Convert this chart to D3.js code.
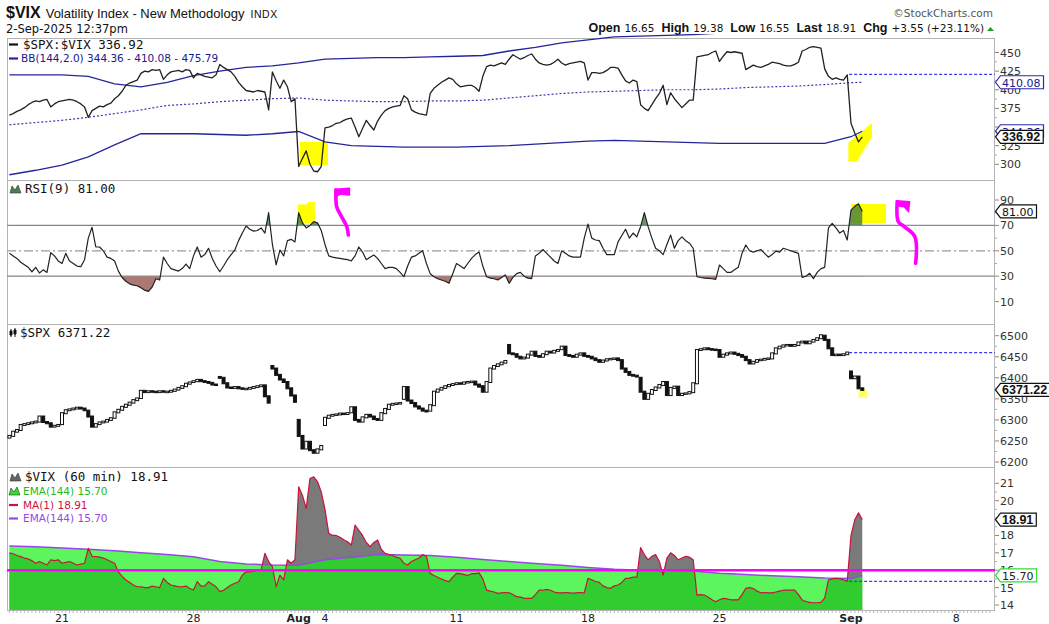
<!DOCTYPE html>
<html>
<head>
<meta charset="utf-8">
<title>$VIX</title>
<script src="https://cdn.jsdelivr.net/npm/d3@7"></script>
<style>
    html, body { margin: 0; padding: 0; background: #fff; }
    svg { display: block; }
</style>
</head>
<body>
<svg id="chart" width="1049" height="624"></svg>
<script>

/* Trading days on the chart, 7 hourly bars per day (last day partial) */
var trading_days = ["2025-07-17","2025-07-18","2025-07-21","2025-07-22","2025-07-23","2025-07-24","2025-07-25",
    "2025-07-28","2025-07-29","2025-07-30","2025-07-31","2025-08-01","2025-08-04","2025-08-05","2025-08-06",
    "2025-08-07","2025-08-08","2025-08-11","2025-08-12","2025-08-13","2025-08-14","2025-08-15","2025-08-18",
    "2025-08-19","2025-08-20","2025-08-21","2025-08-22","2025-08-25","2025-08-26","2025-08-27","2025-08-28",
    "2025-08-29","2025-09-02"];
var bars_per_day = 7;

/* Date axis: day number (counted from Jul 17) and label */
var axis_day_index = [2, 7, 11, 12, 17, 22, 27, 32, 36];
var axis_labels    = ["21", "28", "Aug", "4", "11", "18", "25", "Sep", "8"];
var axis_is_month  = [false, false, true, false, false, false, false, true, false];

/* $SPX:$VIX ratio, hourly */
var ratio_close = [
    366, 368, 371, 373, 376, 380, 383,
    385, 384, 386, 387, 377, 381, 384,
    385, 386, 387, 386, 384, 381, 377,
    363, 372, 375, 378, 377, 380, 382,
    388, 392, 398, 406, 409, 411, 413,
    422, 425, 424, 427, 426, 427, 414,
    420, 424, 425, 426, 424, 427, 426,
    416, 422, 420, 418, 417, 416, 420,
    434, 430, 427, 424, 418, 410, 404,
    399, 398, 397, 399, 398, 397, 373,
    424, 412, 402, 413, 404, 384, 388,
    297, 308, 318, 300, 291, 290, 297,
    349, 350, 352, 355, 356, 359, 361,
    362, 350, 337, 348, 359, 352, 346,
    358, 366, 372, 375, 377, 378, 379,
    392, 388, 373, 370, 368, 367, 366,
    395, 402, 406, 410, 413, 416, 414,
    408, 404, 405, 406, 406, 403, 398,
    418, 431, 433, 432, 434, 436, 434,
    441, 447, 444, 441, 443, 446, 448,
    441, 436, 434, 433, 434, 437, 441,
    436, 433, 435, 436, 437, 438, 436,
    413, 423, 423, 422, 423, 426, 430,
    430, 429, 420, 412, 409, 413, 411,
    380, 375, 372, 380, 388, 395, 406,
    380, 396, 388, 382, 376, 381, 386,
    386, 444, 445, 446, 447, 450, 452,
    438, 445, 451, 450, 451, 450, 449,
    427, 430, 433, 431, 430, 432, 434,
    437, 436, 435, 433, 432, 432, 434,
    437, 452, 454, 457, 458, 457, 456,
    428, 418, 414, 416, 414, 413, 420,
    355, 342, 330, 336.92
];

/* Bollinger bands (144, 2.0): one value per day open, plus the last bar */
var bb_upper  = [420, 420, 420, 418, 408, 404, 410, 419, 425, 430, 432, 436, 441, 442, 443, 443, 444,
    445, 446, 452, 457, 463, 467, 471, 472, 473, 474, 476, 479, 481, 481, 479, 476, 475.79];
var bb_middle = [353, 356, 359, 363, 368, 373, 379, 381, 384, 386, 388, 389, 386, 385, 384, 384, 385,
    385, 386, 389, 392, 395, 397, 398, 399, 400, 400, 401, 403, 404, 405, 407, 409.5, 410.08];
var bb_lower  = [286, 292, 299, 310, 326, 341, 341, 341, 340, 339, 341, 344, 330, 325, 324, 323, 323,
    323, 324, 325, 327, 329, 331, 332, 331, 330, 329, 328, 328, 328, 328, 328, 337, 344.36];

/* RSI(9), hourly */
var rsi_values = [
    48, 46, 44, 41, 39, 37, 33.5,
    37, 32.5, 35, 33, 48.5, 46, 42,
    40, 48, 42, 40, 38, 37.5, 43,
    60, 68.5, 53, 53, 50, 45, 44,
    42, 34, 29, 26, 24, 23, 22.5,
    21, 19, 18, 21.5, 28, 27, 45,
    40, 36, 35, 34, 36, 39.6, 36,
    46, 53, 45, 47, 52, 44, 38,
    33.5, 38, 43, 47, 50.6, 58, 64,
    69.5, 67, 65.5, 66, 68, 64, 80,
    55, 39, 50.6, 46, 58, 59, 57,
    80, 72, 68, 70, 73, 72, 66,
    55, 46, 45, 44.5, 44, 43.5, 43,
    42, 46, 53, 49, 43, 45, 46.7,
    44, 40, 36, 37, 37, 36, 33,
    29.6, 38, 45, 46, 48, 50, 40,
    32, 29.6, 28, 27, 26, 24.4, 32,
    40, 38, 36, 40, 44, 47, 49,
    38, 29.6, 28.5, 28, 27, 29, 31,
    24.4, 29, 32, 33, 30, 28.5, 28,
    46, 48, 51, 48, 45, 42, 40,
    50, 48, 46, 45, 45, 45, 60,
    71, 60, 58.5, 58, 52, 47, 47,
    47, 57, 62, 67, 60, 64, 61,
    69, 80, 69, 60, 52, 50, 47,
    55, 62.4, 52, 58, 61, 58, 56,
    52, 29.6, 29, 28.5, 28.3, 28, 27.5,
    38.8, 36, 33, 33, 35, 37, 48,
    54.6, 50, 49, 50, 51, 48, 45,
    47, 49.7, 49, 52, 51, 50, 49,
    48, 29, 30, 32.3, 28, 33, 36,
    37, 68, 71.6, 68, 64, 66, 58.5,
    82, 85, 87, 81
];
var rsi_levels = [30, 50, 70];

/* $SPX hourly closes and the opening price of each day */
var spx_close = [
    6262, 6272, 6276, 6288, 6290, 6292, 6294,
    6296, 6308, 6295, 6292, 6284, 6286, 6288,
    6316, 6323, 6325, 6327, 6329, 6327, 6323,
    6308, 6284, 6290, 6294, 6296, 6300, 6304,
    6318, 6324, 6331, 6336, 6341, 6347, 6351,
    6369, 6366, 6368, 6367, 6366, 6368, 6367,
    6367, 6369, 6372, 6376, 6380, 6386, 6389,
    6392, 6395, 6392, 6390, 6388, 6384, 6383,
    6400, 6387, 6377, 6376, 6378, 6375, 6374,
    6374, 6376, 6378, 6380, 6382, 6356, 6341,
    6422, 6407, 6396, 6390, 6375, 6358, 6343,
    6262, 6232, 6248, 6228, 6222, 6230, 6238,
    6305, 6310, 6312, 6313, 6315, 6314, 6316,
    6330, 6300, 6296, 6306, 6312, 6308, 6302,
    6300, 6316, 6326, 6336, 6338, 6339, 6340,
    6378, 6346, 6340, 6332, 6327, 6322, 6320,
    6335, 6367, 6372, 6376, 6380, 6383, 6385,
    6387, 6386, 6389, 6390, 6391, 6384, 6379,
    6367, 6390, 6422, 6428, 6432, 6436, 6440,
    6458, 6456, 6450, 6446, 6448, 6455, 6462,
    6452, 6450, 6456, 6462, 6460, 6464, 6466,
    6474, 6454, 6452, 6450, 6455, 6458, 6452,
    6450, 6446, 6442, 6438, 6441, 6444, 6445,
    6446, 6442, 6422, 6414, 6407, 6405, 6403,
    6367, 6350, 6362, 6371, 6377, 6383, 6390,
    6359, 6376, 6379, 6359, 6362, 6363, 6366,
    6387, 6466, 6468, 6470, 6468, 6467, 6466,
    6450, 6455, 6458, 6460, 6457, 6454, 6450,
    6442, 6434, 6438, 6442, 6443, 6445, 6446,
    6458, 6470, 6474, 6477, 6478, 6476, 6478,
    6484, 6486, 6482, 6486, 6490, 6494, 6501,
    6490, 6470, 6454, 6455, 6454, 6456, 6460,
    6399, 6403, 6375, 6371.22
];
var spx_day_open = [6258, 6294, 6290, 6322, 6305, 6352, 6366, 6390, 6402, 6374, 6428, 6300, 6288, 6318,
    6302, 6350, 6322, 6385, 6380, 6478, 6462, 6468, 6452, 6445, 6400, 6390, 6366, 6466, 6450, 6446,
    6478, 6500, 6415];

/* $VIX hourly closes and EMA(144) per day open (plus last bar) */
var vix_close = [
    17.0, 16.95, 16.85, 16.78, 16.7, 16.65, 16.55,
    16.4, 16.5, 16.4, 16.3, 16.6, 16.55, 16.6,
    16.4, 16.45, 16.5, 16.4, 16.3, 16.35, 16.4,
    17.26, 16.8, 16.78, 16.75, 16.7, 16.6, 16.5,
    16.4, 15.9, 15.65, 15.44, 15.3, 15.15, 15.05,
    15.05, 15.0, 15.0, 15.09, 15.05, 15.0, 15.53,
    15.3, 15.15, 15.1, 15.05, 15.05, 15.09, 14.95,
    14.86, 15.34, 15.09, 15.1, 15.34, 15.2, 15.05,
    14.77, 14.85, 15.0, 15.15, 15.25, 15.34, 15.72,
    15.91, 15.9, 15.95, 16.0, 16.0, 16.97, 16.5,
    16.2, 15.05, 15.72, 15.44, 16.6, 16.4, 16.6,
    20.8, 20.3, 19.56, 21.28, 21.37, 21.1, 20.5,
    19.5, 18.12, 18.0, 18.0, 17.9, 17.75, 17.64,
    17.45, 18.6, 18.3, 18.0, 17.6, 17.35, 17.6,
    17.74, 17.2, 16.97, 16.9, 16.85, 16.75, 16.68,
    16.4, 16.3, 16.5, 16.6, 16.7, 16.9, 16.8,
    15.82, 15.7, 15.6, 15.5, 15.4, 15.34, 15.6,
    15.82, 15.8, 15.75, 15.7, 15.8, 15.8, 15.85,
    15.5, 14.86, 14.8, 14.75, 14.67, 14.7, 14.72,
    14.7, 14.6, 14.48, 14.45, 14.4, 14.38, 14.38,
    14.6, 14.86, 14.85, 14.9, 14.85, 14.75, 14.7,
    14.7, 14.72, 14.7, 14.68, 14.7, 14.72, 14.7,
    15.53, 15.45, 15.35, 15.3, 15.1, 15.0, 14.96,
    15.1, 15.15, 15.3, 15.53, 15.55, 15.6, 15.6,
    17.3, 16.9, 16.6, 16.8, 16.9, 16.5, 15.72,
    16.7, 17.0, 16.85, 16.6, 16.7, 16.8, 16.75,
    16.6, 14.57, 14.6, 14.57, 14.45, 14.3, 14.19,
    14.3, 14.38, 14.35, 14.3, 14.3, 14.3, 14.6,
    14.96, 15.0, 14.95, 14.8, 14.7, 14.72, 14.7,
    14.7, 14.75, 14.8, 14.85, 14.86, 14.86, 14.86,
    14.6, 14.29, 14.2, 14.15, 14.13, 14.13, 14.15,
    14.4, 15.44, 15.5, 15.53, 15.5, 15.45, 15.36,
    18.0, 18.9, 19.3, 18.91
];
var vix_ema = [17.4, 17.35, 17.28, 17.2, 17.12, 17.0, 16.9, 16.77, 16.5, 16.36, 16.3, 16.28, 16.6, 16.75,
    16.9, 16.88, 16.85, 16.75, 16.62, 16.5, 16.38, 16.28, 16.15, 16.05, 16.0, 15.98, 15.95, 15.82, 15.75,
    15.68, 15.62, 15.55, 15.52, 15.70];

/* Previous close (Aug 29) of ratio, $SPX and $VIX */
var prev_close_ratio = 420.6;
var prev_close_spx   = 6460;
var prev_close_vix   = 15.36;

/* Right axis ticks */
var ratio_ticks = [300, 325, 350, 375, 400, 425, 450];
var rsi_ticks   = [10, 30, 50, 70, 90];
var spx_ticks   = [6200, 6250, 6300, 6350, 6400, 6450, 6500];
var vix_ticks   = [14, 15, 16, 17, 18, 19, 20, 21];

/* Header quote */
var quote_labels = ["Open", "High", "Low", "Last", "Chg"];
var quote_values = ["16.65", "19.38", "16.55", "18.91", "+3.55 (+23.11%)"];

/* Hand drawn notes, in [bar, value] pairs */
var note_yellow_ratio = [
    [[77.3, 299], [84.8, 299], [84.8, 330], [77.3, 330]],
    [[223.3, 303], [223.3, 329], [228.3, 350], [229.6, 355], [229.6, 337], [225.6, 304]]
];
var note_yellow_rsi = [
    [[76.8, 71.5], [81.3, 71.5], [81.3, 88.5], [79.3, 88.5], [79.3, 86.5], [76.8, 86.5]],
    [[224, 71.7], [233.3, 71.7], [233.3, 86.9], [224, 86.9]]
];
var note_yellow_spx = [
    [[226, 6352], [228.3, 6352], [228.3, 6372], [226, 6372]]
];
var note_pink_stems = [
    [[90.2, 62.4], [89.8, 69], [88.4, 76.9], [87.1, 84.7], [86.9, 92.6], [86.9, 98]],
    [[241.2, 40.2], [241.0, 61.1], [238.2, 69], [236.6, 72.9], [236.3, 88.7]]
];
var note_pink_flags = [
    [[86.9, 98.4], [90.5, 99.2], [90.5, 93.9], [88.0, 94.7], [86.9, 92.6]],
    [[236.1, 89.4], [239.6, 88.7], [239.3, 80.8], [238.2, 84.7], [236.8, 85.3]]
];
var note_pink_level = 16.0;

(function(d3) {

    /* Plot frame and panel bands */
    var m_left  = 7;
    var m_right = 995;
    var m_panels = {
        ratio: { top: 38,  bottom: 180 },
        rsi:   { top: 180, bottom: 324 },
        spx:   { top: 324, bottom: 467 },
        vix:   { top: 467, bottom: 610 }
    };

    var svg = d3.select('#chart');
    var defs = svg.append('defs');

    /* x: hourly bar number (Jul 17 first bar = 0) */
    var x = d3.scaleLinear().domain([0, 252]).range([9.4, 956.2]);

    var y_ratio = d3.scaleLinear().domain([300, 450]).range([164.3, 52.5]);
    var y_rsi   = d3.scaleLinear().domain([10, 90]).range([301.6, 200]);
    var y_spx   = d3.scaleLinear().domain([6200, 6500]).range([462, 335.7]);
    var y_vix   = d3.scaleLinear().domain([14, 21]).range([605, 483.3]);

    var last_bar = ratio_close.length - 1;

    var bar_points = function(values) {
        return values.map(function(v, i) { return { i: i, v: v }; });
    };
    var day_points = function(values) {
        return values.map(function(v, k) {
            return { i: k < trading_days.length ? k * bars_per_day : last_bar, v: v };
        });
    };
    var make_line = function(y) {
        return d3.line().x(function(d) { return x(d.i); }).y(function(d) { return y(d.v); });
    };
    var note_path = function(y) {
        return d3.line().x(function(d) { return x(d[0]); }).y(function(d) { return y(d[1]); });
    };

    /* clip rect helper */
    var add_clip = function(id, x0, y0, x1, y1) {
        defs.append('clipPath').attr('id', id).append('rect')
            .attr('x', x0).attr('y', y0).attr('width', x1 - x0).attr('height', y1 - y0);
        return 'url(#' + id + ')';
    };

    var clip_ratio = add_clip('clip_ratio', m_left, 34, m_right, m_panels.ratio.bottom);
    var clip_rsi   = add_clip('clip_rsi', m_left, m_panels.rsi.top, m_right, m_panels.rsi.bottom);
    var clip_spx   = add_clip('clip_spx', m_left, m_panels.spx.top, m_right, m_panels.spx.bottom);
    var clip_vix   = add_clip('clip_vix', m_left, m_panels.vix.top, m_right, m_panels.vix.bottom);

    /* ### HEADER ### */
    var header = svg.append('g');
    var title = header.append('text').attr('x', 6).attr('y', 18).attr('fill', '#111');
    title.append('tspan').attr('font-family', 'Liberation Sans, Arial, sans-serif')
        .attr('font-weight', 'bold').attr('font-size', 16).text('$VIX');
    title.append('tspan').attr('dx', 5).attr('font-family', 'Liberation Sans, Arial, sans-serif')
        .attr('font-size', 13).text('Volatility Index - New Methodology');
    title.append('tspan').attr('dx', 6).attr('font-family', 'Liberation Sans, Arial, sans-serif')
        .attr('font-size', 10.5).attr('letter-spacing', 0.6).text('INDX');

    header.append('text').attr('x', 6).attr('y', 33)
        .attr('font-family', 'DejaVu Sans, sans-serif').attr('font-size', 11.5).attr('fill', '#111')
        .text('2-Sep-2025 12:37pm');

    header.append('text').attr('x', 993).attr('y', 17).attr('text-anchor', 'end')
        .attr('font-family', 'DejaVu Sans, sans-serif').attr('font-size', 10.5).attr('fill', '#555')
        .text('\u00a9StockCharts.com');

    var quote = header.append('text').attr('x', 984).attr('y', 32).attr('text-anchor', 'end').attr('fill', '#111');
    quote_labels.forEach(function(lbl, k) {
        quote.append('tspan').attr('dx', k === 0 ? 0 : 7)
            .attr('font-family', 'Liberation Sans, Arial, sans-serif').attr('font-weight', 'bold')
            .attr('font-size', 12.5).text(lbl);
        quote.append('tspan').attr('dx', 4)
            .attr('font-family', 'DejaVu Sans, sans-serif').attr('font-size', 10.5).text(quote_values[k]);
    });
    header.append('path').attr('d', 'M987,31 L990.5,27 L994,31 Z').attr('fill', '#1fa01f');

    /* ### FRAME ### */
    var frame = svg.append('g').attr('stroke', '#b4b4b4').attr('stroke-width', 1).attr('fill', 'none');
    frame.append('rect').attr('x', m_left + 0.5).attr('y', m_panels.ratio.top + 0.5)
        .attr('width', m_right - m_left - 1).attr('height', m_panels.vix.bottom - m_panels.ratio.top);
    [m_panels.rsi.top, m_panels.spx.top, m_panels.vix.top].forEach(function(yy) {
        frame.append('line').attr('x1', m_left).attr('x2', m_right).attr('y1', yy + 0.5).attr('y2', yy + 0.5);
    });

    /* ### PANEL 1: $SPX:$VIX with Bollinger bands ### */
    var g_ratio = svg.append('g').attr('clip-path', clip_ratio);

    g_ratio.selectAll('.note_yellow').data(note_yellow_ratio).enter().append('path')
        .attr('d', function(d) { return note_path(y_ratio)(d) + 'Z'; })
        .attr('fill', '#ffff00');

    var line_ratio = make_line(y_ratio);
    g_ratio.append('path').attr('d', line_ratio(day_points(bb_upper)))
        .attr('fill', 'none').attr('stroke', '#25259a').attr('stroke-width', 1.3);
    g_ratio.append('path').attr('d', line_ratio(day_points(bb_lower)))
        .attr('fill', 'none').attr('stroke', '#25259a').attr('stroke-width', 1.3);
    g_ratio.append('path').attr('d', line_ratio(day_points(bb_middle)))
        .attr('fill', 'none').attr('stroke', '#3a3ab0').attr('stroke-width', 1.2).attr('stroke-dasharray', '2,2');

    g_ratio.append('line')
        .attr('x1', (x(last_bar - 3) + x(last_bar - 4)) / 2).attr('x2', m_right)
        .attr('y1', y_ratio(prev_close_ratio)).attr('y2', y_ratio(prev_close_ratio))
        .attr('stroke', '#3b3bff').attr('stroke-width', 1.2).attr('stroke-dasharray', '3,2');

    g_ratio.append('path').attr('d', line_ratio(bar_points(ratio_close)))
        .attr('fill', 'none').attr('stroke', '#222').attr('stroke-width', 1.3).attr('stroke-linejoin', 'round');

    /* ### PANEL 2: RSI(9) ### */
    var g_rsi = svg.append('g').attr('clip-path', clip_rsi);

    g_rsi.selectAll('.note_yellow').data(note_yellow_rsi).enter().append('path')
        .attr('d', function(d) { return note_path(y_rsi)(d) + 'Z'; })
        .attr('fill', '#ffff00');

    rsi_levels.forEach(function(lvl) {
        g_rsi.append('line').attr('x1', m_left).attr('x2', m_right)
            .attr('y1', y_rsi(lvl)).attr('y2', y_rsi(lvl))
            .attr('stroke', lvl === 50 ? '#999' : '#8c8c8c').attr('stroke-width', 1.2)
            .attr('stroke-dasharray', lvl === 50 ? '9,3,2,3' : null);
    });

    var rsi_pts = bar_points(rsi_values);
    var clip_over  = add_clip('clip_rsi_over', m_left, m_panels.rsi.top, m_right, y_rsi(70));
    var clip_under = add_clip('clip_rsi_under', m_left, y_rsi(30), m_right, m_panels.rsi.bottom);
    var area_rsi = function(level) {
        return d3.area().x(function(d) { return x(d.i); })
            .y0(y_rsi(level)).y1(function(d) { return y_rsi(d.v); });
    };
    g_rsi.append('g').attr('clip-path', clip_over).append('path')
        .attr('d', area_rsi(70)(rsi_pts)).attr('fill', '#3f7a3f').attr('fill-opacity', 0.78);
    g_rsi.append('g').attr('clip-path', clip_under).append('path')
        .attr('d', area_rsi(30)(rsi_pts)).attr('fill', '#9c6258').attr('fill-opacity', 0.85);

    g_rsi.append('path').attr('d', make_line(y_rsi)(rsi_pts))
        .attr('fill', 'none').attr('stroke', '#222').attr('stroke-width', 1.2).attr('stroke-linejoin', 'round');

    /* pink marker arrows */
    g_rsi.selectAll('.note_stem').data(note_pink_stems).enter().append('path')
        .attr('d', function(d) { return d3.line().curve(d3.curveCatmullRom)
            .x(function(p) { return x(p[0]); }).y(function(p) { return y_rsi(p[1]); })(d); })
        .attr('fill', 'none').attr('stroke', '#ff00ff').attr('stroke-width', 3.6).attr('stroke-linecap', 'round');
    g_rsi.selectAll('.note_flag').data(note_pink_flags).enter().append('path')
        .attr('d', function(d) { return note_path(y_rsi)(d) + 'Z'; })
        .attr('fill', '#ff00ff').attr('stroke', '#ff00ff').attr('stroke-width', 1.5).attr('stroke-linejoin', 'round');

    /* ### PANEL 3: $SPX candles ### */
    var g_spx = svg.append('g').attr('clip-path', clip_spx);

    g_spx.selectAll('.note_yellow').data(note_yellow_spx).enter().append('path')
        .attr('d', function(d) { return note_path(y_spx)(d) + 'Z'; })
        .attr('fill', '#ffff66');

    g_spx.append('line')
        .attr('x1', (x(last_bar - 3) + x(last_bar - 4)) / 2).attr('x2', m_right)
        .attr('y1', y_spx(prev_close_spx)).attr('y2', y_spx(prev_close_spx))
        .attr('stroke', '#3b3bff').attr('stroke-width', 1.2).attr('stroke-dasharray', '3,2');

    var candles = spx_close.map(function(c, i) {
        var open = (i % bars_per_day === 0) ? spx_day_open[i / bars_per_day] : spx_close[i - 1];
        return { i: i, o: open, c: c };
    });
    g_spx.selectAll('.candle').data(candles).enter().append('rect')
        .attr('class', 'candle')
        .attr('x', function(d) { return x(d.i) - 1.5; })
        .attr('width', 3)
        .attr('y', function(d) { return y_spx(Math.max(d.o, d.c)) - 0.5; })
        .attr('height', function(d) { return Math.max(1.5, Math.abs(y_spx(d.o) - y_spx(d.c)) + 1); })
        .attr('fill', function(d) { return d.c < d.o ? '#111' : '#fff'; })
        .attr('stroke', '#111').attr('stroke-width', 1);

    /* ### PANEL 4: $VIX with EMA(144) ### */
    var g_vix = svg.append('g').attr('clip-path', clip_vix);
    var vix_pts = bar_points(vix_close);
    var ema_pts = day_points(vix_ema);
    var area_vix = d3.area().x(function(d) { return x(d.i); })
        .y0(m_panels.vix.bottom).y1(function(d) { return y_vix(d.v); });

    g_vix.append('path').attr('d', area_vix(vix_pts)).attr('fill', '#7a7a7a');
    g_vix.append('path').attr('d', area_vix(ema_pts)).attr('fill', '#5df55d');
    defs.append('clipPath').attr('id', 'clip_ema').append('path').attr('d', area_vix(ema_pts));
    g_vix.append('g').attr('clip-path', 'url(#clip_ema)').append('path')
        .attr('d', area_vix(vix_pts)).attr('fill', '#30cc30');

    g_vix.append('path').attr('d', make_line(y_vix)(ema_pts))
        .attr('fill', 'none').attr('stroke', '#9b45e8').attr('stroke-width', 1.5);
    g_vix.append('path').attr('d', make_line(y_vix)(vix_pts))
        .attr('fill', 'none').attr('stroke', '#c8143c').attr('stroke-width', 1.2).attr('stroke-linejoin', 'round');

    g_vix.append('line').attr('x1', m_left).attr('x2', m_right)
        .attr('y1', y_vix(note_pink_level)).attr('y2', y_vix(note_pink_level))
        .attr('stroke', '#ff00ff').attr('stroke-width', 2.6);

    g_vix.append('line')
        .attr('x1', (x(last_bar - 3) + x(last_bar - 4)) / 2).attr('x2', m_right)
        .attr('y1', y_vix(prev_close_vix)).attr('y2', y_vix(prev_close_vix))
        .attr('stroke', '#3b3bff').attr('stroke-width', 1.2).attr('stroke-dasharray', '3,2');

    /* ### RIGHT AXES ### */
    /* labels that sit right under a value tag are hidden by it, so not drawn */
    var draw_axis = function(scale, ticks, tag_ys) {
        var g = svg.append('g');
        ticks.forEach(function(t, k) {
            var yy = scale(t);
            g.append('line').attr('x1', m_right).attr('x2', m_right + 4).attr('y1', yy).attr('y2', yy)
                .attr('stroke', '#888');
            if (k < ticks.length - 1) {
                var ym = scale((t + ticks[k + 1]) / 2);
                g.append('line').attr('x1', m_right).attr('x2', m_right + 2).attr('y1', ym).attr('y2', ym)
                    .attr('stroke', '#aaa');
            }
            var hidden = tag_ys.some(function(ty) { return Math.abs(ty - yy) < 5; });
            if (hidden) return;
            g.append('text').attr('x', m_right + 5).attr('y', yy + 4)
                .attr('font-family', 'DejaVu Sans, sans-serif').attr('font-size', 11).attr('fill', '#333')
                .text(t);
        });
    };
    var ratio_tag_ys = [y_ratio(bb_middle[bb_middle.length - 1]), y_ratio(bb_lower[bb_lower.length - 1]),
        y_ratio(ratio_close[last_bar])];
    draw_axis(y_ratio, ratio_ticks, ratio_tag_ys);
    draw_axis(y_rsi, rsi_ticks, [y_rsi(rsi_values[last_bar])]);
    draw_axis(y_spx, spx_ticks, [y_spx(spx_close[last_bar])]);
    draw_axis(y_vix, vix_ticks, [y_vix(vix_close[last_bar]), y_vix(vix_ema[vix_ema.length - 1])]);

    /* value tags on the right axis */
    var draw_tag = function(yy, txt, border, color, bold) {
        var g = svg.append('g').attr('transform', 'translate(' + m_right + ',' + yy + ')');
        var shape = g.append('path');
        var t = g.append('text').attr('x', 7).attr('y', 4.3)
            .attr('font-family', bold ? 'Liberation Sans, Arial, sans-serif' : 'DejaVu Sans, sans-serif')
            .attr('font-weight', bold ? 'bold' : 'normal')
            .attr('font-size', bold ? 12.5 : 11).attr('fill', color).text(txt);
        var w = t.node().getComputedTextLength();
        shape.attr('d', 'M0.5,0 L5.5,-6.5 L' + (w + 10) + ',-6.5 L' + (w + 10) + ',6.5 L5.5,6.5 Z')
            .attr('fill', '#fff').attr('stroke', border).attr('stroke-width', 1.2);
    };
    draw_tag(ratio_tag_ys[0], '410.08', '#2a2ab0', '#1a1a8c', false);
    draw_tag(ratio_tag_ys[1], '344.36', '#2a2ab0', '#1a1a8c', false);
    draw_tag(ratio_tag_ys[2], '336.92', '#111', '#111', true);
    draw_tag(y_rsi(rsi_values[last_bar]), '81.00', '#111', '#111', false);
    draw_tag(y_spx(spx_close[last_bar]), '6371.22', '#111', '#111', true);
    draw_tag(y_vix(vix_close[last_bar]), '18.91', '#111', '#111', true);
    draw_tag(y_vix(vix_ema[vix_ema.length - 1]), '15.70', '#33dd33', '#222', false);

    /* ### DATE AXIS ### */
    var g_axis = svg.append('g');
    d3.range(0, 262).forEach(function(i) {
        var xx = x(i);
        if (xx < m_left || xx > m_right) return;
        g_axis.append('line').attr('x1', xx).attr('x2', xx)
            .attr('y1', m_panels.vix.bottom + 1).attr('y2', m_panels.vix.bottom + 3)
            .attr('stroke', '#aaa').attr('stroke-width', 0.8);
    });
    axis_day_index.forEach(function(k, n) {
        g_axis.append('text').attr('x', x(k * bars_per_day)).attr('y', 622)
            .attr('text-anchor', 'middle')
            .attr('font-family', 'DejaVu Sans, sans-serif').attr('font-size', 11)
            .attr('font-weight', axis_is_month[n] ? 'bold' : 'normal').attr('fill', '#222')
            .text(axis_labels[n]);
    });

    /* ### LEGENDS ### */
    var legend = svg.append('g');
    var mono = 'DejaVu Sans Mono, monospace';
    var sans = 'DejaVu Sans, sans-serif';
    var add_label = function(xx, yy, txt, color, font, size) {
        legend.append('text').attr('x', xx).attr('y', yy).attr('font-family', font)
            .attr('font-size', size).attr('fill', color).text(txt);
    };
    var add_dash = function(xx, yy, color) {
        legend.append('line').attr('x1', xx).attr('x2', xx + 9).attr('y1', yy).attr('y2', yy)
            .attr('stroke', color).attr('stroke-width', 2.2);
    };
    var add_mountain = function(xx, yy, color) {
        legend.append('path')
            .attr('d', 'M' + xx + ',' + yy + ' L' + (xx + 2) + ',' + (yy - 7) + ' L' + (xx + 5) + ',' + (yy - 3) +
                ' L' + (xx + 8) + ',' + (yy - 8) + ' L' + (xx + 11) + ',' + yy + ' Z')
            .attr('fill', color).attr('stroke', '#333').attr('stroke-width', 0.6);
    };

    add_dash(9, 44.5, '#111');
    add_label(23, 49, '$SPX:$VIX 336.92', '#111', mono, 12.5);
    add_dash(9, 58.5, '#25259a');
    add_label(21, 62, 'BB(144,2.0) 344.36 - 410.08 - 475.79', '#1a1a8c', sans, 10.5);

    add_mountain(10, 193, '#4f7f4f');
    add_label(25, 193, 'RSI(9) 81.00', '#111', mono, 12.5);

    legend.append('path').attr('d', 'M11,329 L11,337 M10,331 L12,331 L12,335 L10,335 Z M15,328 L15,337 M14,330 L16,330 L16,334 L14,334 Z')
        .attr('fill', '#111').attr('stroke', '#111').attr('stroke-width', 1);
    add_label(20, 337, '$SPX 6371.22', '#111', mono, 12.5);

    add_mountain(10, 481, '#666');
    add_label(25, 481, '$VIX (60 min) 18.91', '#111', mono, 12.5);
    add_mountain(9, 495, '#33dd33');
    add_label(23, 495, 'EMA(144) 15.70', '#22bb22', sans, 10.5);
    add_dash(9, 505, '#c8143c');
    add_label(23, 509, 'MA(1) 18.91', '#c8143c', sans, 10.5);
    add_dash(9, 518.5, '#9b45e8');
    add_label(23, 522, 'EMA(144) 15.70', '#9b45e8', sans, 10.5);

}(window.d3));
</script>
</body>
</html>
